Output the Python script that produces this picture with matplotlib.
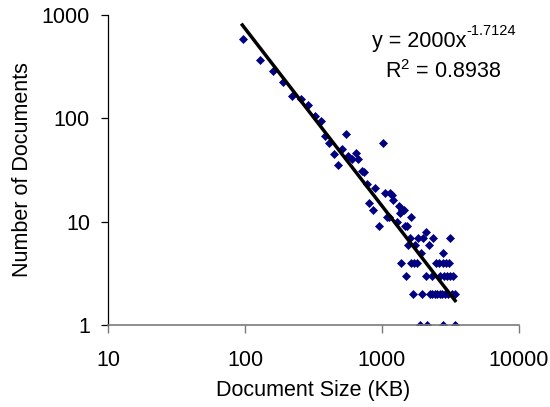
#Document size distribution, log-log with power trendline

#importing libaries
import matplotlib
matplotlib.use("Agg")
import matplotlib.pyplot as plt
import numpy as np

plt.rcParams['font.family'] = ['Liberation Sans', 'DejaVu Sans']
plt.rcParams['mathtext.default'] = 'regular'

#data: document size (KB) and number of documents of that size
doc_size_kb = [95.7, 127.9, 159.2, 189.4, 221, 257, 290, 323, 356, 382,
               413, 449, 481, 514, 545, 566, 600, 642, 673, 710,
               743, 779, 806, 867, 896, 957, 1025, 1046, 1086, 1134,
               1148, 1181, 1214, 1281, 1336, 1359, 1398, 1441, 1478, 1537,
               1562, 1608, 1627, 1750, 1825, 1919, 2012, 2088, 2214, 2357,
               2780, 3128,
               1374, 1635, 1720, 1809, 2472, 2620, 2780, 2950, 3104,
               1503, 2105, 2327, 2665, 2826, 2997, 3151, 3333,
               1690, 1950, 2233, 2330, 2430, 2534, 2643, 2755, 2900, 3050, 3236, 3432,
               1914, 2153, 2805, 3404]
num_docs = [578, 362, 285, 223, 165, 152, 133, 105, 94, 67,
            57, 45, 35, 50, 70, 43, 40, 46, 40, 31,
            30, 23, 15, 13, 21, 9, 58, 19, 11, 11,
            19, 18, 16, 10, 14, 12, 13, 13, 9, 9,
            6, 7, 11, 6, 7, 5, 7, 8, 6, 7,
            5, 7,
            4, 4, 4, 4, 4, 4, 4, 4, 4,
            3, 3, 3, 3, 3, 3, 3, 3,
            2, 2, 2, 2, 2, 2, 2, 2, 2, 2, 2, 2,
            1, 1, 1, 1]

#power trendline y = c * x^k over the data range
trend_coef = 1.95e6
trend_exp = -1.7124
trend_range = [95.4, 3432]
eq_main = 'y = 2000x'
eq_power = '-1.7124'
r2_text = 'R$^{2}$ = 0.8938'

x_ticks = [10, 100, 1000, 10000]
x_ticklabels = ['10', '100', '1000', '10000']
y_ticks = [1, 10, 100, 1000]
y_ticklabels = ['1', '10', '100', '1000']

W, H = 550, 407
fs = 15.5
fig = plt.figure(figsize=(W/100, H/100), dpi=100)
ax = fig.add_axes([108.4/W, 1-325/H, 410.2/W, 310.3/H])

#scatter points
ax.plot(doc_size_kb, num_docs, linestyle='none', marker='D', markersize=3.8,
        markerfacecolor='#000080', markeredgecolor='#000080', markeredgewidth=0.5)

#trendline
tx = np.array(trend_range)
ax.plot(tx, trend_coef*tx**trend_exp, color='black', linewidth=2.5)

ax.set_xscale('log')
ax.set_yscale('log')
ax.set_xlim(10, 10000)
ax.set_ylim(1, 1000)
ax.set_xticks(x_ticks)
ax.set_xticklabels(x_ticklabels)
ax.set_yticks(y_ticks)
ax.set_yticklabels(y_ticklabels)
ax.minorticks_off()

ax.spines['top'].set_visible(False)
ax.spines['right'].set_visible(False)
ax.spines['left'].set_color('black')
ax.spines['left'].set_linewidth(0.9)
ax.spines['bottom'].set_color('#7a7a7a')
ax.spines['bottom'].set_linewidth(1.2)

ax.tick_params(axis='x', length=5.5, width=1.0, color='#7a7a7a', pad=12.5, labelsize=fs)
ax.tick_params(axis='y', length=5, width=0.9, color='black', pad=8.3, labelsize=fs)

#naming the x and y axis
ax.set_xlabel('Document Size (KB)', fontsize=fs)
ax.set_ylabel('Number of Documents', fontsize=fs)
ax.xaxis.set_label_coords(0.5, -0.1763)
ax.yaxis.set_label_coords(-0.1845, 0.5)

#equation of trendline
fig.text(466/W, 1-46.7/H, eq_main, fontsize=fs, ha='right', va='baseline')
fig.text(466/W, 1-35/H, eq_power, fontsize=10.5, ha='left', va='baseline')
fig.text(442.6/W, 1-78.3/H, r2_text, fontsize=fs, ha='center', va='baseline')

plt.savefig('out.png', dpi=100)
